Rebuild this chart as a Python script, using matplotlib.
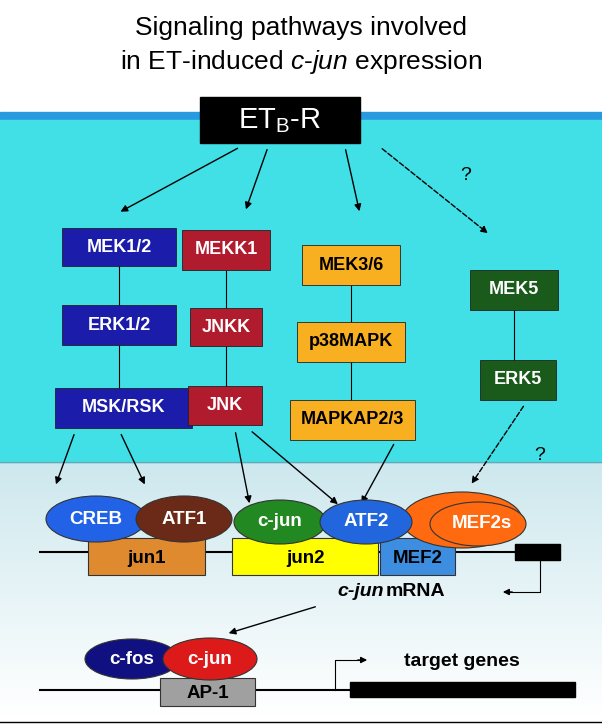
import matplotlib
matplotlib.use("Agg")
import matplotlib.pyplot as plt
from matplotlib.patches import Rectangle, Ellipse, FancyArrowPatch
import numpy as np

plt.rcParams['font.family'] = ['Liberation Sans', 'DejaVu Sans']
plt.rcParams['mathtext.fontset'] = 'custom'
plt.rcParams['mathtext.rm'] = 'Liberation Sans'
plt.rcParams['mathtext.it'] = 'Liberation Sans:italic'

# kinase boxes: label, x0, x1, y0, y1, colour
kinases = [
    ("MEK1/2", 62, 176, 228, 266, "#1c1caa"),
    ("ERK1/2", 62, 176, 305, 345, "#1c1caa"),
    ("MSK/RSK", 55, 192, 388, 428, "#1c1caa"),
    ("MEKK1", 182, 270, 230, 270, "#b01c2e"),
    ("JNKK", 190, 262, 308, 346, "#b01c2e"),
    ("JNK", 188, 262, 386, 425, "#b01c2e"),
    ("MEK3/6", 302, 400, 245, 285, "#f8b020"),
    ("p38MAPK", 297, 405, 322, 362, "#f8b020"),
    ("MAPKAP2/3", 290, 415, 400, 440, "#f8b020"),
    ("MEK5", 470, 558, 270, 310, "#1a5a1a"),
    ("ERK5", 480, 556, 360, 400, "#1a5a1a"),
]
kin_text = {"#f8b020": "black"}
chains = [(0, 1, 2), (3, 4, 5), (6, 7, 8), (9, 10)]

# transcription factors: label, cx, cy, w, h, colour
factors = [
    ("CREB", 96, 519, 100, 46, "#2262e6"),
    ("c-jun", 280, 522, 92, 44, "#228822"),
    ("ATF1", 184, 519, 96, 46, "#6b2a18"),
    ("ATF2", 366, 522, 92, 44, "#2266dd"),
    ("c-fos", 132, 659, 94, 40, "#101080"),
    ("c-jun", 210, 659, 94, 42, "#dd1a1a"),
]
# promoter elements: label, x0, x1, y0, y1, colour
elements = [
    ("jun1", 88, 205, 538, 575, "#e08a30"),
    ("jun2", 232, 378, 538, 575, "#ffff00"),
    ("MEF2", 380, 455, 538, 575, "#3d8ee0"),
    ("AP-1", 160, 255, 678, 706, "#a0a0a0"),
]

# arrows: start, end, dashed
arrows = [
    ((240, 147), (118, 213), False), ((268, 147), (245, 212), False),
    ((345, 147), (360, 214), False), ((380, 147), (490, 235), True),
    ((75, 432), (55, 487), False), ((120, 432), (146, 487), False),
    ((235, 430), (250, 506), False), ((250, 430), (340, 506), False),
    ((395, 442), (360, 506), False), ((525, 404), (470, 486), True),
    ((318, 606), (226, 634), False),
]

fig = plt.figure(figsize=(6.02, 7.28), dpi=100)
ax = fig.add_axes([0, 0, 1, 1])
ax.set_xlim(0, 602)
ax.set_ylim(728, 0)
ax.axis("off")

# background regions
ax.add_patch(Rectangle((0, 112), 602, 8, color="#2a9ae0"))
ax.add_patch(Rectangle((0, 120), 602, 342, color="#40e0e6"))
grad = np.linspace(0, 1, 100).reshape(-1, 1)
ax.imshow(grad, extent=(0, 602, 716, 462), cmap=matplotlib.colors.LinearSegmentedColormap.from_list(
    "g", ["#cde8ee", "#ffffff"]), aspect="auto", zorder=0)
ax.plot([0, 602], [462, 462], color="#6aa8b8", lw=1)
ax.plot([0, 602], [722, 722], color="black", lw=1)

ax.text(301, 28, "Signaling pathways involved", ha="center", va="center", fontsize=19)
ax.text(301, 62, "in ET-induced $\\it{c}$-$\\it{jun}$ expression", ha="center", va="center", fontsize=19)

ax.add_patch(Rectangle((200, 97), 160, 46, color="black", zorder=3))
ax.text(280, 121, "ET$_\\mathregular{B}$-R", color="white", ha="center", va="center", fontsize=21, zorder=4)

for ch in chains:
    for a, b in zip(ch[:-1], ch[1:]):
        xa = (kinases[a][1] + kinases[a][2]) / 2
        ax.plot([xa, xa], [kinases[a][4], kinases[b][3]], color="black", lw=0.8, zorder=2)
for lab, x0, x1, y0, y1, c in kinases:
    ax.add_patch(Rectangle((x0, y0), x1 - x0, y1 - y0, fc=c, ec="#222222", lw=0.6, zorder=3))
    ax.text((x0 + x1) / 2, (y0 + y1) / 2, lab, color=kin_text.get(c, "white"), ha="center",
            va="center", fontsize=13, fontweight="bold", zorder=4)

for s, e, d in arrows:
    ax.add_patch(FancyArrowPatch(s, e, arrowstyle="-|>", mutation_scale=10, lw=1,
                                 ls="--" if d else "-", color="black", zorder=5))
ax.text(466, 176, "?", fontsize=14, ha="center", va="center")
ax.text(540, 455, "?", fontsize=14, ha="center", va="center")

# DNA lines
ax.plot([40, 515], [552, 552], color="black", lw=1.5, zorder=2)
ax.add_patch(Rectangle((515, 544), 45, 16, color="black", zorder=3))
ax.plot([40, 350], [690, 690], color="black", lw=1.5, zorder=2)
ax.add_patch(Rectangle((350, 682), 225, 15, color="black", zorder=3))

for lab, x0, x1, y0, y1, c in elements:
    ax.add_patch(Rectangle((x0, y0), x1 - x0, y1 - y0, fc=c, ec="#333333", lw=0.8, zorder=3))
    ax.text((x0 + x1) / 2, (y0 + y1) / 2 + 2, lab, ha="center", va="center",
            fontsize=13.5, fontweight="bold", zorder=4)

ax.add_patch(Ellipse((462, 520), 120, 56, fc="#ff6a10", ec="#333333", lw=0.8, zorder=5))
ax.add_patch(Ellipse((478, 524), 96, 44, fc="#ff6a10", ec="#333333", lw=0.8, zorder=5))
ax.text(482, 524, "MEF2s", ha="center", va="center", fontsize=13.5, fontweight="bold", color="white", zorder=6)
for lab, cx, cy, w, h, c in factors:
    ax.add_patch(Ellipse((cx, cy), w, h, fc=c, ec="#333333", lw=0.8, zorder=5))
    ax.text(cx, cy, lab, ha="center", va="center", fontsize=13.5, fontweight="bold", color="white", zorder=6)

# bent arrows
ax.plot([540, 540, 510], [560, 592, 592], color="black", lw=0.8)
ax.add_patch(FancyArrowPatch((515, 592), (500, 592), arrowstyle="-|>", mutation_scale=9, color="black"))
ax.text(384, 592, "c-jun", ha="right", va="center", fontsize=14, fontweight="bold", fontstyle="italic")
ax.text(386, 592, "mRNA", ha="left", va="center", fontsize=14, fontweight="bold")
ax.plot([335, 335, 360], [690, 660, 660], color="black", lw=0.8)
ax.add_patch(FancyArrowPatch((355, 660), (370, 660), arrowstyle="-|>", mutation_scale=9, color="black"))
ax.text(462, 661, "target genes", ha="center", va="center", fontsize=14, fontweight="bold")

fig.savefig("out.png", dpi=100)
